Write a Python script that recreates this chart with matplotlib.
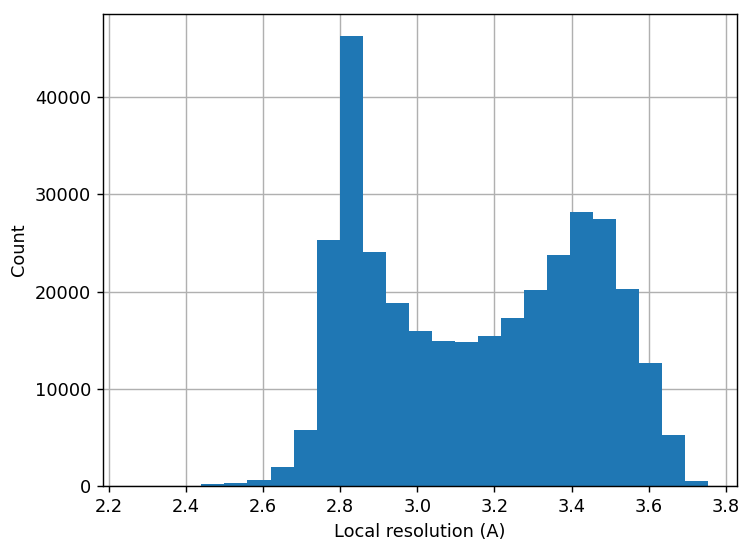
import numpy as np
import matplotlib
matplotlib.use('Agg')
import matplotlib.pyplot as plt

# histogram of local resolution values
res_min = 2.261
res_max = 3.754
n_bins = 25
counts = [1, 0, 0, 170, 300, 620, 1920, 5730, 25300, 46250,
          24090, 18870, 15940, 14910, 14770, 15420, 17270, 20170, 23750, 28200,
          27520, 20280, 12690, 5200, 560]

edges = np.linspace(res_min, res_max, n_bins + 1)
centers = (edges[:-1] + edges[1:]) / 2

# reference looks like a default figure rendered at a larger scale
dpi = 127.6
fig = plt.figure(figsize=(743 / dpi, 541 / dpi), dpi=dpi)
ax = fig.add_axes([0.1393, 0.1017, 0.8526, 0.8724])
ax.hist(centers, bins=edges, weights=counts, color='#1f77b4')
ax.grid(True)
ax.set_axisbelow(True)
ax.set_xlabel('Local resolution (A)')
ax.set_ylabel('Count')
fig.savefig('out.png', dpi=dpi)
